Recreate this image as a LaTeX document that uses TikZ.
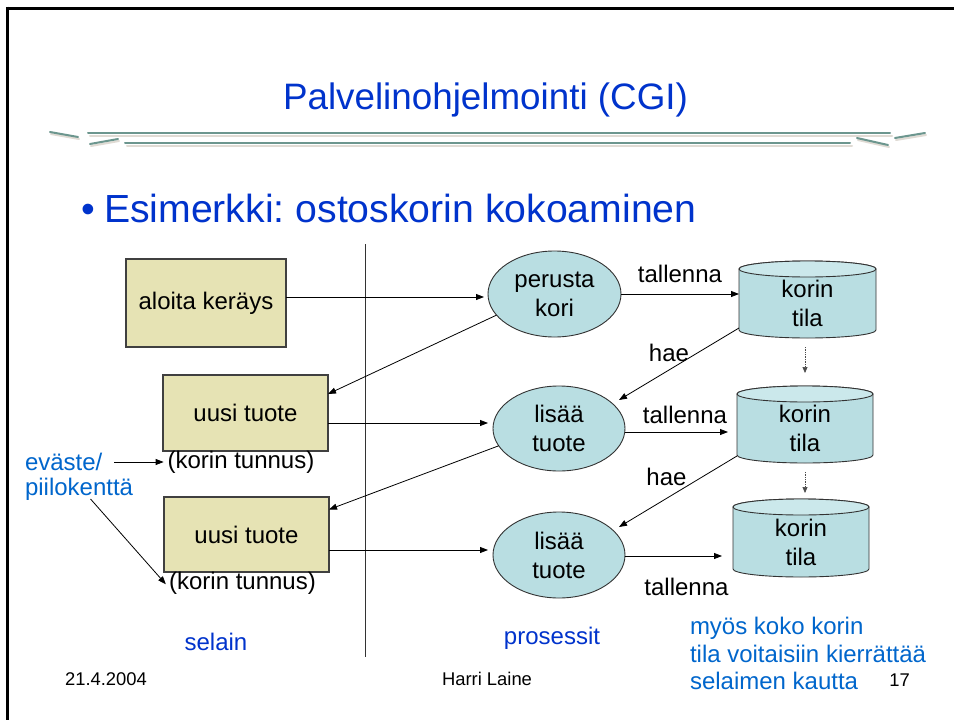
\documentclass[tikz,border=0pt]{standalone}
\usepackage{fontspec}
\setmainfont{Liberation Sans}
\usetikzlibrary{shapes.geometric,arrows.meta,calc}
\definecolor{boxfill}{RGB}{230,227,180}
\definecolor{procfill}{RGB}{185,222,226}
\definecolor{cyltop}{RGB}{203,232,235}
\definecolor{titleblue}{RGB}{0,51,204}
\definecolor{noteblue}{RGB}{0,102,204}
\definecolor{rulecol}{RGB}{108,150,142}
\definecolor{shadowcol}{RGB}{224,219,212}
\pgfdeclarelayer{bg}
\pgfsetlayers{bg,main}
\newcommand{\drawkorcyl}[2]{%
  \path[fill=procfill, draw=black!80, line width=0.9pt]
    ([yshift=-8pt]#1.north west) -- ([yshift=8pt]#1.south west)
    arc[start angle=180, end angle=360, x radius=#2, y radius=8pt]
    -- ([yshift=-8pt]#1.north east)
    arc[start angle=0, end angle=180, x radius=#2, y radius=8pt] -- cycle;
  \path[fill=cyltop, draw=black!80, line width=0.9pt]
    ([yshift=-8pt]#1.north) ellipse[x radius=#2, y radius=8pt];
}
\frenchspacing
\begin{document}
\begin{tikzpicture}[x=1pt,y=-1pt,
  every node/.style={inner sep=0pt, outer sep=0pt},
  lbl/.style={font=\fontsize{24}{29}\selectfont},
  foot/.style={font=\fontsize{18.4}{22}\selectfont},
  pbox/.style={draw=black!75, line width=1.1pt, fill=boxfill, lbl},
  proc/.style={ellipse, draw=black!80, line width=0.9pt, fill=procfill, lbl, align=center},
  cyl/.style={minimum height=77pt, label={[lbl,align=center,yshift=-4pt]center:{korin\\tila}}},
  arr/.style={line width=0.8pt, -{Triangle[length=8pt,width=6pt]}},
  dotarr/.style={densely dotted, line width=0.7pt, draw=black!70, -{Triangle[length=6pt,width=5pt]}},
  rulel/.style={rulecol, line width=2pt, line cap=round},
  rules/.style={shadowcol, line width=2pt, line cap=round}]
\useasboundingbox (0,0) rectangle (954,720);
\begin{pgfonlayer}{bg}
\fill[white] (0,0) rectangle (954,720);
\end{pgfonlayer}
% slide frame
\draw[line width=3pt] (7.5,8) -- (954,8);
\draw[line width=3pt] (7.5,6.5) -- (7.5,720);
% title
\node[font=\fontsize{36.8}{44}\selectfont, text=titleblue] (title) at (485.5,99.5) {Palvelinohjelmointi (CGI)};
% title rule
\draw[rules] (90,135.5) -- (892,135.5);
\draw[rules] (127,145.5) -- (852,145.5);
\draw[rulel] (88,133) -- (890,133);
\draw[rulel] (125,143) -- (850,143);
\draw[rules] (51,134) -- (79,139);
\draw[rulel] (50,132) -- (78,137);
\draw[rules] (91,146) -- (119,141);
\draw[rulel] (90,144) -- (118,139);
\draw[rules] (896,140) -- (926,135);
\draw[rulel] (895,138) -- (925,133);
\draw[rules] (858,140) -- (889,147);
\draw[rulel] (857,138) -- (888,145);
% bullet
\node[font=\fontsize{39.2}{46}\selectfont, text=titleblue, anchor=west] (head) at (104,208) {Esimerkki: ostoskorin kokoaminen};
\node[font=\fontsize{39.2}{46}\selectfont, text=titleblue, anchor=base east] (bul) at ([xshift=-9pt]head.base west) {•};
% divider
\draw[line width=0.9pt, black!80] (365,244) -- (365,657);
% browser side
\node[pbox, minimum width=160pt, minimum height=88pt] (aloita) at (206,303) {aloita keräys};
\node[pbox, minimum width=165pt, minimum height=76pt] (uusi1) at (245.5,413) {uusi tuote};
\node[pbox, minimum width=165pt, minimum height=75pt] (uusi2) at (246.5,534.5) {uusi tuote};
\node[lbl] (kt1) at (241,462) {(korin tunnus)};
\node[lbl] (kt2) at (242.5,583) {(korin tunnus)};
\node[lbl, text=noteblue, anchor=west] (ev1) at (25,462) {eväste/};
\node[lbl, text=noteblue, anchor=west] (ev2) at (25,489) {piilokenttä};
% processes
\node[proc, minimum width=133pt, minimum height=86pt] (perusta) at (554.5,294) {perusta\\kori};
\node[proc, minimum width=132pt, minimum height=85pt] (lisaa1) at (559,428.5) {lisää\\tuote};
\node[proc, minimum width=132pt, minimum height=86pt] (lisaa2) at (559,555) {lisää\\tuote};
% storage
\node[cyl, minimum width=137pt] (c1) at (807.5,299.5) {};
\node[cyl, minimum width=136pt] (c2) at (805,424.5) {};
\node[cyl, minimum width=136pt, minimum height=78pt] (c3) at (801,538) {};
\begin{pgfonlayer}{bg}
\drawkorcyl{c1}{68.5pt}
\drawkorcyl{c2}{68pt}
\drawkorcyl{c3}{68pt}
\end{pgfonlayer}
% connectors
\draw[arr, shorten >=4pt] ([yshift=6pt]aloita.east) -- ([yshift=6pt]aloita.east -| perusta.west);
\draw[arr] (perusta.200) -- ([yshift=19pt]uusi1.east);
\draw[arr, shorten >=5pt] ([yshift=-10pt]uusi1.east) -- ([yshift=-10pt]uusi1.east -| lisaa1.west);
\draw[arr] (lisaa1.196) -- ([yshift=25pt]uusi2.east);
\draw[arr, shorten >=5pt] ([yshift=-15.5pt]uusi2.east) -- ([yshift=-15.5pt]uusi2.east -| lisaa2.west);
\draw[arr] (perusta.east) -- node[lbl, above=11pt] (tal1) {tallenna} (perusta.east -| c1.west);
\draw[arr] ([yshift=-28.5pt]c1.west) -- node[lbl, pos=0.5, xshift=-10pt, yshift=11pt] (hae1) {hae} ([xshift=60pt,yshift=28.5pt]lisaa1.center);
\draw[arr, shorten >=9pt] ([yshift=-3.5pt]lisaa1.east) -- node[lbl, above=8.4pt, xshift=4pt] (tal2) {tallenna} ([yshift=-3.5pt]lisaa1.east -| c2.west);
\draw[arr] ([yshift=-31.5pt]c2.west) -- node[lbl, pos=0.5, xshift=-11.5pt, yshift=14.5pt] (hae2) {hae} ([xshift=60pt,yshift=28pt]lisaa2.center);
\draw[arr, shorten >=11pt] ([yshift=-1pt]lisaa2.east) -- node[lbl, below=22pt, xshift=7.5pt] (tal3) {tallenna} ([yshift=-1pt]lisaa2.east -| c3.west);
\draw[dotarr] ([xshift=-2.5pt,yshift=-9pt]c1.south) -- ([yshift=13pt]c2.north);
\draw[dotarr] ([yshift=-9pt]c2.south) -- ([xshift=4pt,yshift=6pt]c3.north);
\draw[arr, shorten >=4pt] ([xshift=12pt]ev1.east) -- (kt1.west);
\draw[arr, shorten >=5pt] ([xshift=11.5pt,yshift=-10pt]ev2.center) -- ([yshift=-5pt]kt2.west);
% captions
\node[lbl, text=titleblue] (selain) at (216,642) {selain};
\node[lbl, text=titleblue] (prosessit) at (552,638) {prosessit};
\node[font=\fontsize{24}{27.5}\selectfont, text=noteblue, align=left, anchor=north west] (myos) at (690,617.5) {myös koko korin\\tila voitaisiin kierrättää\\selaimen kautta};
% footer
\node[foot] (date) at (106,679) {21.4.2004};
\node[foot] (author) at (487,679) {Harri Laine};
\node[foot] (page) at (899.5,680) {17};
\end{tikzpicture}
\end{document}
